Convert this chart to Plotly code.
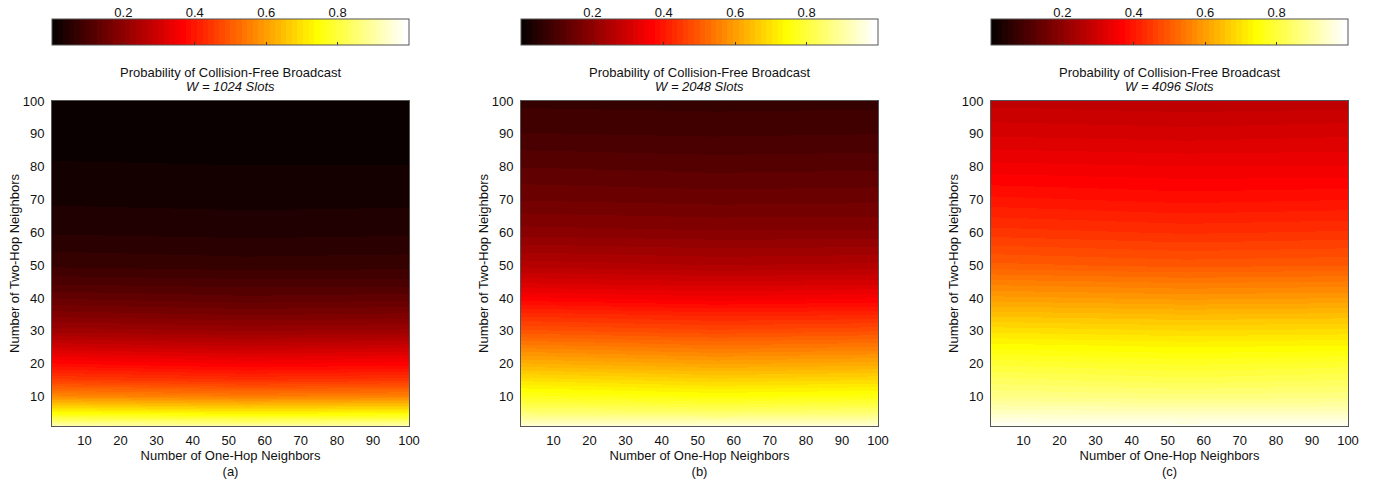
import plotly.graph_objects as go

# Grid where the broadcast probability was sampled
one_hop = [1, 55, 100]
two_hop = [1, 5, 10, 15, 20, 25, 30, 35, 40, 45, 50, 60, 70, 80, 90, 100]

# Probability of collision-free broadcast, rows = two-hop count, cols = one-hop count
p_w1024 = [
    [0.92, 0.91, 0.92],
    [0.75, 0.73, 0.74],
    [0.57, 0.55, 0.56],
    [0.46, 0.44, 0.45],
    [0.38, 0.36, 0.37],
    [0.30, 0.285, 0.295],
    [0.23, 0.22, 0.225],
    [0.18, 0.17, 0.175],
    [0.14, 0.13, 0.135],
    [0.105, 0.10, 0.10],
    [0.075, 0.07, 0.072],
    [0.045, 0.042, 0.044],
    [0.028, 0.026, 0.027],
    [0.017, 0.016, 0.016],
    [0.010, 0.010, 0.010],
    [0.006, 0.006, 0.006],
]
p_w2048 = [
    [0.96, 0.955, 0.96],
    [0.86, 0.85, 0.86],
    [0.77, 0.75, 0.76],
    [0.70, 0.68, 0.69],
    [0.63, 0.61, 0.62],
    [0.56, 0.54, 0.55],
    [0.49, 0.475, 0.485],
    [0.43, 0.415, 0.42],
    [0.365, 0.35, 0.36],
    [0.31, 0.30, 0.305],
    [0.26, 0.25, 0.255],
    [0.195, 0.19, 0.19],
    [0.155, 0.15, 0.152],
    [0.125, 0.12, 0.122],
    [0.095, 0.092, 0.094],
    [0.074, 0.072, 0.073],
]
p_w4096 = [
    [0.985, 0.98, 0.985],
    [0.935, 0.93, 0.93],
    [0.875, 0.865, 0.87],
    [0.835, 0.82, 0.83],
    [0.795, 0.78, 0.79],
    [0.745, 0.735, 0.74],
    [0.70, 0.69, 0.695],
    [0.65, 0.64, 0.645],
    [0.60, 0.59, 0.595],
    [0.555, 0.545, 0.55],
    [0.505, 0.495, 0.50],
    [0.445, 0.435, 0.44],
    [0.395, 0.385, 0.39],
    [0.35, 0.345, 0.345],
    [0.31, 0.305, 0.31],
    [0.275, 0.27, 0.272],
]

panels = [p_w1024, p_w2048, p_w4096]
slot_labels = ["W = 1024 Slots", "W = 2048 Slots", "W = 4096 Slots"]
panel_tags = ["(a)", "(b)", "(c)"]
axis_ticks = [10, 20, 30, 40, 50, 60, 70, 80, 90, 100]
cbar_ticks = [0.2, 0.4, 0.6, 0.8]

# 64-step "hot" colormap (black -> red -> yellow -> white), stepped
N = 64
n1 = 24
hot = []
for i in range(N):
    r = min(1.0, (i + 1) / n1)
    g = min(1.0, max(0.0, (i + 1 - n1) / n1))
    b = min(1.0, max(0.0, (i + 1 - 2 * n1) / (N - 2 * n1)))
    hot.append("rgb(%d,%d,%d)" % (round(r * 255), round(g * 255), round(b * 255)))
hot_scale = []
for i, c in enumerate(hot):
    hot_scale.append([i / N, c])
    hot_scale.append([(i + 1) / N, c])

W, H = 1384, 481
FONT = "Liberation Sans, Arial, Helvetica, sans-serif"
FS = 13
TXT = "#111111"

# pixel geometry of the three panels
left_px = [52, 521, 991]
plot_w = 357
plot_top, plot_bot = 101, 426
cb_top, cb_bot = 19, 45

fig = go.Figure()
layout = dict(
    width=W, height=H,
    margin=dict(l=0, r=0, t=0, b=0, pad=0, autoexpand=False),
    paper_bgcolor="white", plot_bgcolor="white",
    font=dict(family=FONT, size=FS, color=TXT),
    showlegend=False,
    annotations=[],
)

for k, z in enumerate(panels):
    n = k + 1
    x0 = left_px[k] / W
    x1 = (left_px[k] + plot_w) / W
    xc = (x0 + x1) / 2
    xa = "x" if n == 1 else "x%d" % n
    ya = "y" if n == 1 else "y%d" % n
    fig.add_trace(go.Heatmap(
        x=one_hop, y=two_hop, z=z,
        xaxis=xa, yaxis=ya,
        zmin=0, zmax=1, zsmooth="best",
        colorscale=hot_scale,
        showscale=True,
        colorbar=dict(
            orientation="h",
            x=xc, xanchor="center",
            y=1 - cb_top / H, yanchor="top",
            len=plot_w, lenmode="pixels",
            thickness=cb_bot - cb_top, thicknessmode="pixels",
            xpad=0, ypad=0,
            outlinewidth=1, outlinecolor="#555555",
            tickmode="array", tickvals=cbar_ticks,
            ticks="inside", ticklen=3, tickcolor="#333333",
            showticklabels=False,
        ),
        hoverinfo="skip",
    ))
    ax_common = dict(
        showgrid=False, zeroline=False, automargin=False,
        showline=True, mirror=True, linecolor="#555555", linewidth=1,
        ticks="", tickmode="array", tickvals=axis_ticks,
        tickfont=dict(family=FONT, size=FS, color=TXT),
    )
    layout["xaxis" if n == 1 else "xaxis%d" % n] = dict(
        ax_common, domain=[x0, x1], range=[1, 100], anchor=ya,
        ticklabelstandoff=2,
        title=dict(text="Number of One-Hop Neighbors<br>" + panel_tags[k],
                   font=dict(family=FONT, size=FS, color=TXT), standoff=2),
    )
    layout["yaxis" if n == 1 else "yaxis%d" % n] = dict(
        ax_common, domain=[1 - plot_bot / H, 1 - plot_top / H], range=[1, 100], anchor=xa,
        ticklabelstandoff=4,
        title=dict(text="Number of Two-Hop Neighbors",
                   font=dict(family=FONT, size=FS, color=TXT), standoff=0),
    )

    # axis carrying the colorbar's tick labels above the bar
    m = n + 3
    fig.add_trace(go.Scatter(x=[0.5], y=[0.5], mode="markers", opacity=0,
                             xaxis="x%d" % m, yaxis="y%d" % m, hoverinfo="skip"))
    layout["xaxis%d" % m] = dict(
        domain=[x0, x1], range=[0, 1], anchor="y%d" % m, side="top",
        showgrid=False, zeroline=False, showline=False, ticks="", automargin=False,
        tickmode="array", tickvals=cbar_ticks, ticktext=["0.2", "0.4", "0.6", "0.8"],
        tickfont=dict(family=FONT, size=FS, color=TXT), ticklabelstandoff=0,
        fixedrange=True,
    )
    layout["yaxis%d" % m] = dict(
        domain=[1 - cb_bot / H, 1 - (cb_top + 1.5) / H], range=[0, 1], anchor="x%d" % m,
        visible=False, fixedrange=True, automargin=False,
    )

    layout["annotations"].append(dict(
        x=xc, y=1 - 72 / H, xref="paper", yref="paper",
        xanchor="center", yanchor="middle", showarrow=False,
        text="Probability of Collision-Free Broadcast",
        font=dict(family=FONT, size=FS, color=TXT),
    ))
    layout["annotations"].append(dict(
        x=xc, y=1 - 86.5 / H, xref="paper", yref="paper",
        xanchor="center", yanchor="middle", showarrow=False,
        text="<i>" + slot_labels[k] + "</i>",
        font=dict(family=FONT, size=FS, color=TXT),
    ))

fig.update_layout(**layout)
fig.write_html("out.html")
